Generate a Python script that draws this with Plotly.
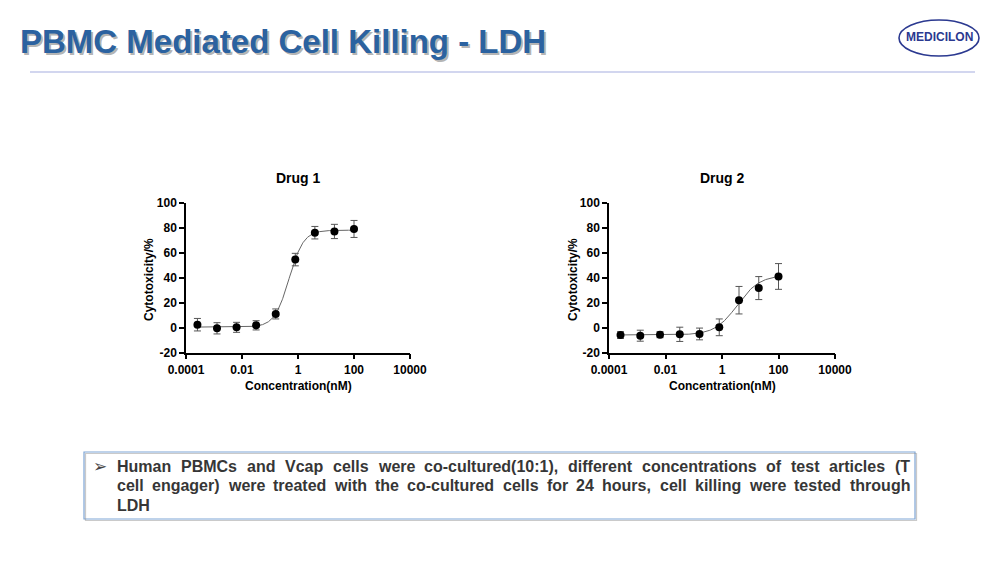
import numpy as np
import plotly.graph_objects as go

# ---------------- data ----------------
CONC = [0.000256, 0.00128, 0.0064, 0.032, 0.16, 0.8, 4, 20, 100]  # nM, 5-fold dilution
DRUG1_MEAN = [2.4, -0.5, 0.3, 1.9, 11.0, 54.5, 76.0, 77.0, 79.0]
DRUG1_SD = [5.0, 4.5, 4.0, 3.7, 4.0, 5.0, 5.0, 5.7, 6.8]
DRUG2_MEAN = [-5.9, -6.4, -5.6, -5.3, -5.0, 0.3, 22.0, 31.7, 41.0]
DRUG2_SD = [2.7, 4.4, 2.4, 5.7, 4.7, 6.7, 11.0, 9.2, 10.3]

# 4-parameter logistic fit parameters (bottom, top, EC50 nM, Hill slope)
FIT1 = [0.5, 78.0, 0.48, 1.67]
FIT2 = [-5.8, 42.0, 3.5, 1.1]

X_TICKS = [1e-4, 1e-2, 1, 100, 1e4]
X_TICK_LABELS = ["0.0001", "0.01", "1", "100", "10000"]
Y_TICKS = [-20, 0, 20, 40, 60, 80, 100]
Y_TICK_LABELS = ["-20", "0", "20", "40", "60", "80", "100"]

TITLE = "PBMC Mediated Cell Killing - LDH"
PANEL_TITLES = ["Drug 1", "Drug 2"]
X_TITLE = "Concentration(nM)"
Y_TITLE = "Cytotoxicity/%"
NOTE_LINES = [
    "Human PBMCs and Vcap cells were co-cultured(10:1), different concentrations of test articles (T",
    "cell engager) were treated with the co-cultured cells for 24 hours, cell killing were tested through",
    "LDH",
]

W, H = 1000, 562
FONT = "Liberation Sans, Arial, sans-serif"


def px(x):
    return x / W


def py(y):
    return 1 - y / H


def four_pl(x, p):
    b, t, ec, h = p
    return b + (t - b) / (1 + (ec / x) ** h)


fig = go.Figure()

panels = [
    (DRUG1_MEAN, DRUG1_SD, FIT1, "x", "y"),
    (DRUG2_MEAN, DRUG2_SD, FIT2, "x2", "y2"),
]
for mean, sd, fit, xa, ya in panels:
    xc = np.logspace(np.log10(CONC[0]), np.log10(CONC[-1]), 300)
    fig.add_trace(go.Scatter(x=xc, y=four_pl(xc, fit), mode="lines",
                             line=dict(color="#666666", width=1),
                             xaxis=xa, yaxis=ya, showlegend=False, hoverinfo="skip"))
    fig.add_trace(go.Scatter(x=CONC, y=mean, mode="markers",
                             marker=dict(color="black", size=8),
                             error_y=dict(type="data", array=sd, color="#555555",
                                          thickness=1, width=3.5),
                             xaxis=xa, yaxis=ya, showlegend=False, cliponaxis=False))

ydom = [py(352.7), py(202.7)]
xdoms = [[px(186), px(410)], [px(609), px(835)]]

axis_common = dict(showline=True, linecolor="black", linewidth=1.5, ticks="outside",
                   ticklen=5, tickwidth=1.5, tickcolor="black", showgrid=False,
                   zeroline=False, tickfont=dict(family=FONT, size=12, color="black",
                                                 weight="bold"))
for i, (xd, suffix) in enumerate(zip(xdoms, ["", "2"])):
    fig.update_layout(**{
        "xaxis" + suffix: dict(domain=xd, anchor="y" + suffix, type="log", range=[-4, 4],
                               tickvals=X_TICKS, ticktext=X_TICK_LABELS, **axis_common),
        "yaxis" + suffix: dict(domain=ydom, anchor="x" + suffix, range=[-20, 100],
                               tickvals=Y_TICKS, ticktext=Y_TICK_LABELS, **axis_common),
    })

ann = []


def add_text(x, y, text, **kw):
    d = dict(x=px(x), y=py(y), xref="paper", yref="paper", text=text, showarrow=False,
             xanchor="center", yanchor="middle")
    d.update(kw)
    ann.append(d)


# panel titles and axis titles
centers = [298, 722]
ytitle_x = [149, 573]
for c, yx, t in zip(centers, ytitle_x, PANEL_TITLES):
    add_text(c, 178, "<b>%s</b>" % t, font=dict(family=FONT, size=14, color="black"))
    add_text(c, 386, "<b>%s</b>" % X_TITLE, font=dict(family=FONT, size=12, color="black"))
    add_text(yx, 280, "<b>%s</b>" % Y_TITLE, textangle=-90,
             font=dict(family=FONT, size=12, color="black"))

# page title with shadow
add_text(20, 43, "<b>%s</b>" % TITLE, xanchor="left",
         font=dict(family=FONT, size=33, color="rgba(60,60,60,0.4)"))
add_text(18, 41, "<b>%s</b>" % TITLE, xanchor="left",
         font=dict(family=FONT, size=33, color="#2b62a0"))

# logo text
add_text(939, 37, "<b>MEDICILON</b>", font=dict(family=FONT, size=12, color="#2b3990"))

# note text, justified
CW = {' ': 278, '(': 333, ')': 333, ',': 278, '-': 333, '.': 278, ':': 333,
      'A': 722, 'B': 722, 'C': 722, 'D': 722, 'E': 667, 'F': 611, 'G': 778, 'H': 722,
      'I': 278, 'K': 722, 'L': 611, 'M': 833, 'N': 722, 'O': 778, 'P': 667, 'S': 667,
      'T': 611, 'V': 667, 'a': 556, 'b': 611, 'c': 556, 'd': 611, 'e': 556, 'f': 333,
      'g': 611, 'h': 611, 'i': 278, 'k': 556, 'l': 278, 'm': 889, 'n': 611, 'o': 611,
      'p': 611, 'r': 389, 's': 556, 't': 333, 'u': 611, 'v': 556, 'w': 778, 'y': 556}
NOTE_SIZE = 16
x_left, x_right = 117, 910
line_y = [466, 485.5, 505]
for li, (line, yy) in enumerate(zip(NOTE_LINES, line_y)):
    words = line.split(" ")
    widths = [sum(CW.get(ch, 556) for ch in w) * NOTE_SIZE / 1000 for w in words]
    justify = li < len(NOTE_LINES) - 1
    gap = (x_right - x_left - sum(widths)) / (len(words) - 1) if justify else 278 * NOTE_SIZE / 1000
    xx = x_left
    for w, wd in zip(words, widths):
        add_text(xx, yy, "<b>%s</b>" % w, xanchor="left", xshift=-2,
                 font=dict(family=FONT, size=NOTE_SIZE, color="#363636"))
        xx += wd + gap
add_text(100, 466, "➢", font=dict(family="DejaVu Sans", size=17, color="#444444"))

shapes = [
    # title underline
    dict(type="line", xref="paper", yref="paper", x0=px(30), x1=px(975), y0=py(72), y1=py(72),
         line=dict(color="#c3c9ea", width=1.5)),
    # logo ellipse
    dict(type="circle", xref="paper", yref="paper", x0=px(899), x1=px(979), y0=py(56), y1=py(20),
         line=dict(color="#2b3990", width=1.6)),
    # note box shadow and box
    dict(type="rect", xref="paper", yref="paper", x0=px(85.5), x1=px(916.5), y0=py(520.5), y1=py(453.5),
         line=dict(color="rgba(150,150,150,0.5)", width=1.2)),
    dict(type="rect", xref="paper", yref="paper", x0=px(84), x1=px(915), y0=py(519), y1=py(452),
         line=dict(color="#7ea6d6", width=1.2), fillcolor="white", layer="below"),
]

fig.update_layout(width=W, height=H, margin=dict(l=0, r=0, t=0, b=0, autoexpand=False),
                  paper_bgcolor="white", plot_bgcolor="white",
                  annotations=ann, shapes=shapes, showlegend=False)

fig.write_html("out.html")
